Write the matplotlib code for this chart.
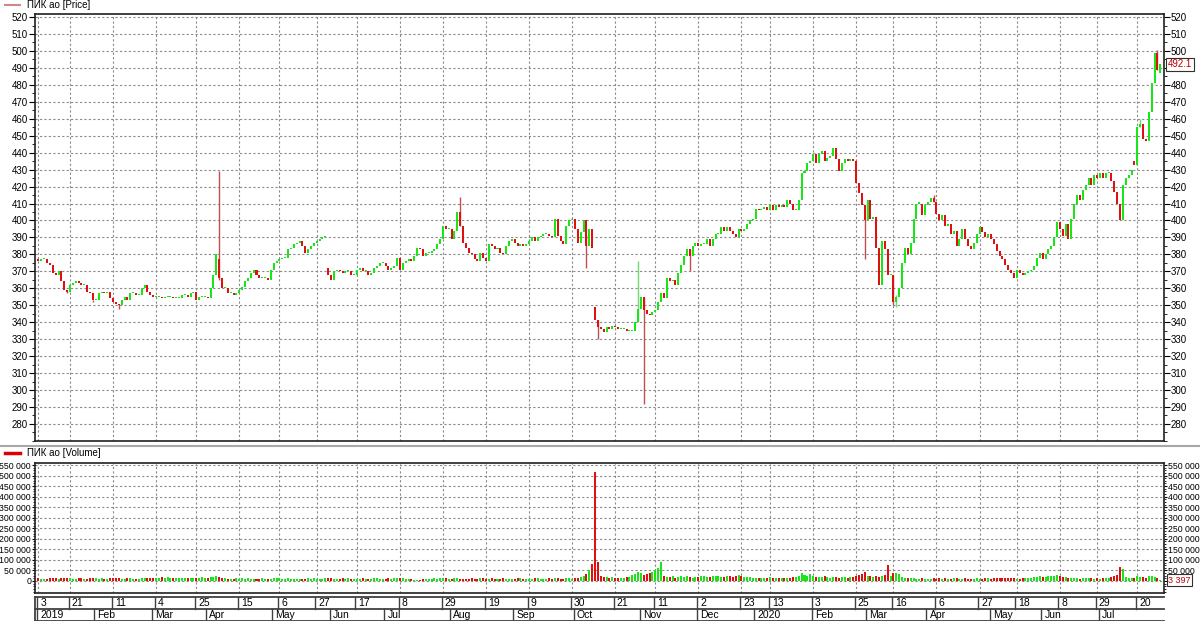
import matplotlib
matplotlib.use("Agg")
import matplotlib.pyplot as plt
from matplotlib.lines import Line2D
from matplotlib.ticker import MultipleLocator, FuncFormatter
import matplotlib.transforms as mtransforms

plt.rcParams["font.family"] = ["Liberation Sans", "DejaVu Sans"]

# daily candles, ПИК ао, 3 Jan 2019 .. late Jul 2020 (trading-day index)
opens = [
    377, 376, 377, 377, 375, 374, 369, 368, 370, 364,
    359, 358, 362, 363, 364, 363, 362, 362, 358, 357,
    353, 353, 357, 358, 357, 358, 354, 352, 351, 350,
    353, 355, 353, 357, 357, 356, 356, 360, 362, 358,
    356, 355, 355, 355, 354, 355, 355, 355, 354, 354,
    354, 356, 356, 355, 357, 358, 353, 355, 355, 355,
    354, 360, 368, 377, 366, 360, 360, 357, 357, 356,
    357, 359, 361, 364, 366, 369, 371, 368, 366, 366,
    366, 365, 371, 375, 376, 377, 378, 378, 383, 384,
    386, 387, 388, 385, 381, 383, 385, 387, 388, 389,
    390, 372, 368, 365, 370, 371, 370, 369, 370, 370,
    368, 368, 371, 372, 370, 370, 368, 369, 372, 373,
    375, 375, 373, 371, 372, 373, 378, 371, 375, 376,
    377, 376, 379, 384, 383, 379, 381, 381, 382, 383,
    386, 389, 397, 395, 395, 389, 394, 405, 397, 387,
    384, 381, 380, 377, 376, 381, 378, 376, 386, 385,
    383, 384, 381, 380, 385, 388, 389, 387, 385, 386,
    385, 386, 388, 390, 388, 390, 391, 392, 392, 391,
    390, 401, 391, 388, 386, 397, 400, 401, 395, 387,
    393, 400, 385, 395, 349, 341, 337, 336, 334, 337,
    336, 338, 337, 336, 336, 336, 335, 335, 335, 340,
    348, 355, 347, 345, 344, 346, 347, 352, 357, 354,
    366, 364, 365, 362, 369, 374, 379, 383, 379, 385,
    387, 385, 386, 386, 389, 385, 389, 392, 392, 396,
    394, 396, 394, 392, 390, 395, 394, 395, 398, 400,
    401, 407, 406, 407, 408, 406, 409, 406, 409, 408,
    409, 408, 412, 410, 406, 406, 412, 428, 429, 434,
    435, 439, 434, 439, 441, 435, 437, 438, 443, 436,
    429, 434, 436, 435, 436, 435, 422, 416, 409, 400,
    412, 401, 402, 384, 362, 388, 383, 368, 368, 352,
    355, 360, 375, 384, 380, 387, 401, 410, 410, 403,
    409, 411, 413, 411, 404, 400, 403, 397, 398, 392,
    394, 385, 389, 395, 389, 385, 383, 387, 392, 396,
    393, 390, 392, 389, 386, 382, 379, 377, 374, 371,
    369, 366, 371, 369, 368, 369, 370, 371, 373, 378,
    381, 377, 380, 383, 385, 390, 399, 395, 391, 398,
    389, 401, 410, 415, 412, 418, 421, 425, 421, 427,
    425, 428, 425, 428, 428, 423, 417, 410, 400, 421,
    425, 427, 435, 433, 455, 457, 448, 447, 464, 481,
    499, 487,
]

closes = [
    376, 377, 377, 375, 374, 369, 368, 370, 364, 359,
    358, 362, 363, 364, 363, 362, 362, 358, 357, 353,
    353, 357, 358, 357, 358, 354, 352, 351, 350, 353,
    355, 353, 357, 357, 356, 356, 360, 362, 358, 356,
    355, 355, 355, 354, 355, 355, 355, 354, 354, 354,
    356, 356, 355, 357, 358, 353, 355, 355, 355, 354,
    360, 368, 380, 366, 360, 360, 357, 357, 356, 357,
    359, 361, 364, 366, 369, 371, 368, 366, 366, 366,
    365, 371, 375, 376, 377, 378, 378, 383, 384, 386,
    387, 388, 385, 381, 383, 385, 387, 388, 389, 390,
    391, 368, 365, 370, 371, 370, 369, 370, 370, 368,
    368, 371, 372, 370, 370, 368, 369, 372, 373, 375,
    375, 373, 371, 372, 373, 378, 371, 375, 376, 377,
    376, 379, 384, 383, 379, 381, 381, 382, 383, 386,
    389, 397, 395, 395, 389, 394, 405, 397, 387, 384,
    381, 380, 377, 376, 381, 378, 376, 386, 385, 383,
    384, 381, 380, 385, 388, 389, 387, 385, 386, 385,
    386, 388, 390, 388, 390, 391, 392, 392, 391, 390,
    401, 391, 388, 386, 397, 400, 401, 395, 387, 393,
    400, 385, 395, 384, 341, 337, 336, 334, 337, 336,
    338, 337, 336, 336, 336, 335, 335, 335, 340, 348,
    355, 347, 345, 344, 346, 347, 352, 357, 354, 366,
    364, 365, 362, 369, 374, 379, 383, 379, 385, 387,
    385, 386, 386, 389, 385, 389, 392, 392, 396, 394,
    396, 394, 392, 390, 395, 394, 395, 398, 400, 401,
    407, 406, 407, 408, 406, 409, 406, 409, 408, 409,
    408, 412, 410, 406, 406, 412, 428, 429, 434, 435,
    439, 434, 439, 441, 435, 437, 438, 443, 436, 429,
    434, 436, 435, 436, 435, 422, 416, 409, 400, 412,
    401, 402, 384, 362, 388, 383, 368, 368, 352, 355,
    360, 375, 384, 380, 387, 401, 410, 410, 403, 409,
    411, 413, 411, 404, 400, 403, 397, 398, 392, 394,
    385, 389, 395, 389, 385, 383, 387, 392, 396, 393,
    390, 392, 389, 386, 382, 379, 377, 374, 371, 369,
    366, 371, 369, 368, 369, 370, 371, 373, 378, 381,
    377, 380, 383, 385, 390, 399, 395, 391, 398, 389,
    401, 410, 415, 412, 418, 421, 425, 421, 427, 425,
    428, 425, 428, 428, 423, 417, 410, 400, 421, 425,
    427, 430, 433, 455, 457, 448, 447, 464, 481, 499,
    489, 492.1,
]

# long shadows worth drawing: (index, high, low)
wick_idx = [10, 19, 28, 63, 147, 191, 195, 209, 211, 227, 288, 298, 299, 312, 384, 390]
wick_high = [359, 353, 351, 429, 414, 395, 341, 376, 355, 383, 409, 368, 356, 415, 460, 500.5]
wick_low = [357, 352, 348, 365, 397, 372, 330, 340, 292, 370, 377, 350, 349, 411, 455, 489]

# volume, thousands of shares
volume_k = [
    12, 10, 9, 11, 13, 14, 12, 10, 15, 16,
    14, 12, 11, 10, 12, 13, 11, 10, 12, 14,
    13, 11, 12, 10, 9, 12, 14, 15, 12, 11,
    10, 12, 13, 11, 10, 9, 12, 15, 14, 13,
    16, 15, 13, 17, 16, 18, 15, 14, 16, 13,
    12, 14, 13, 15, 12, 14, 16, 17, 15, 14,
    18, 20, 22, 19, 14, 12, 10, 11, 9, 12,
    10, 13, 11, 12, 10, 9, 11, 10, 12, 8,
    9, 10, 14, 12, 13, 11, 10, 12, 9, 11,
    10, 8, 9, 11, 12, 10, 13, 11, 9, 10,
    12, 16, 14, 11, 9, 10, 12, 11, 13, 10,
    9, 11, 10, 12, 9, 10, 11, 12, 13, 10,
    9, 11, 12, 10, 14, 16, 13, 12, 10, 9,
    8, 7, 6, 7, 8, 10, 9, 11, 12, 10,
    13, 15, 12, 11, 10, 12, 14, 11, 10, 9,
    11, 12, 10, 9, 13, 12, 11, 10, 12, 11,
    9, 10, 12, 11, 9, 10, 11, 13, 12, 10,
    9, 11, 10, 12, 13, 11, 10, 9, 12, 10,
    14, 12, 10, 11, 13, 12, 10, 14, 16, 20,
    24, 33, 52, 80, 515, 90, 22, 20, 18, 16,
    17, 15, 14, 16, 15, 18, 20, 28, 35, 42,
    38, 30, 32, 38, 42, 50, 62, 88, 25, 20,
    18, 22, 16, 20, 24, 18, 22, 20, 16, 18,
    21, 24, 22, 20, 19, 23, 25, 22, 20, 18,
    24, 22, 21, 25, 27, 23, 20, 18, 17, 16,
    15, 14, 16, 13, 15, 17, 14, 16, 15, 13,
    14, 16, 15, 17, 18, 22, 40, 28, 25, 32,
    22, 18, 20, 17, 22, 19, 16, 18, 20, 15,
    17, 19, 16, 18, 20, 24, 28, 32, 42, 26,
    25, 18, 22, 20, 24, 30, 78, 22, 38, 36,
    34, 18, 15, 14, 12, 13, 11, 10, 12, 11,
    9, 10, 12, 11, 13, 10, 12, 11, 10, 12,
    13, 11, 10, 12, 11, 9, 10, 12, 11, 10,
    12, 13, 11, 14, 12, 13, 15, 12, 14, 13,
    12, 11, 10, 12, 14, 13, 15, 17, 20, 22,
    18, 20, 24, 22, 25, 28, 24, 20, 18, 16,
    14, 12, 13, 11, 12, 14, 13, 12, 10, 12,
    11, 13, 15, 16, 20, 24, 30, 65, 55, 18,
    15, 12, 14, 22, 20, 18, 16, 24, 22, 18,
    16, 3.397,
]

day_tick_idx = [0, 11, 26, 41, 55, 70, 84, 97, 111, 126, 141, 156, 171, 186,
                201, 215, 230, 245, 255, 270, 285, 298, 313, 328, 341, 356, 369, 383]
day_tick_lbl = ["3", "21", "11", "4", "25", "15", "6", "27", "17", "8", "29", "19", "9", "30",
                "21", "11", "2", "23", "13", "3", "25", "16", "6", "27", "18", "8", "29", "20"]
month_idx = [0, 20, 40, 59, 82, 102, 121, 144, 166, 187, 210, 230, 250, 270, 289, 310, 332, 350, 370]
month_lbl = ["2019", "Feb", "Mar", "Apr", "May", "Jun", "Jul", "Aug", "Sep", "Oct", "Nov", "Dec",
             "2020", "Feb", "Mar", "Apr", "May", "Jun", "Jul"]

assert len(opens) == len(closes) == len(volume_k)

UP = "#19e619"
DOWN = "#e01010"
GRID = "#8a8a8a"
W, H = 1200, 621

fig = plt.figure(figsize=(12, 6.21), dpi=100)
fig.patch.set_facecolor("white")

left, right = 35 / W, 1164 / W
ax_p = fig.add_axes([left, 1 - 441 / H, right - left, (441 - 14) / H])
ax_v = fig.add_axes([left, 1 - 593 / H, right - left, (593 - 463) / H], sharex=ax_p)
ax_d = fig.add_axes([left, 1 - 621 / H, right - left, (621 - 597) / H], sharex=ax_p)

n = len(closes)
xs = list(range(n))
up = [c >= o for o, c in zip(opens, closes)]
cols = [UP if u else DOWN for u in up]
bottoms = [min(o, c) for o, c in zip(opens, closes)]
heights = [max(abs(c - o), 0.6) for o, c in zip(opens, closes)]

# price candles
for i, hi, lo in zip(wick_idx, wick_high, wick_low):
    ax_p.vlines(i, lo, hi, color="#c05050" if not up[i] else "#70d870", lw=1.0, zorder=2)
ax_p.bar(xs, heights, bottom=bottoms, width=0.7, color=cols, linewidth=0, zorder=3)

# volume bars
vols = [v * 1000 for v in volume_k]
ax_v.bar(xs, vols, width=0.7, color=cols, linewidth=0, zorder=3)

ax_p.set_xlim(-1.2, 392.3)
ax_p.set_ylim(269.9, 521.8)
ax_v.set_ylim(-56900, 559500)

for ax in (ax_p, ax_v):
    ax.set_xticks(day_tick_idx)
    ax.tick_params(axis="x", length=0, labelbottom=False)
    ax.grid(True, which="major", color=GRID, linestyle=(0, (2, 2)), linewidth=0.8, zorder=0)
    ax.tick_params(axis="y", which="both", direction="out", left=True, right=True,
                   labelleft=True, labelright=True, pad=1, colors="black")
    ax.tick_params(axis="y", which="minor", length=2, width=0.6)
    for s in ax.spines.values():
        s.set_linewidth(1.2)
        s.set_color("#202020")

ax_p.tick_params(axis="y", which="major", length=4, width=0.8, labelsize=7)
ax_p.set_yticks(range(280, 521, 10))
ax_p.yaxis.set_minor_locator(MultipleLocator(5))

ax_v.tick_params(axis="y", which="major", length=2.5, width=0.8, labelsize=6.3, pad=0.3)
ax_v.tick_params(axis="y", which="minor", length=1.5)
ax_v.set_yticks(range(0, 550001, 50000))
ax_v.yaxis.set_minor_locator(MultipleLocator(12500))
ax_v.yaxis.set_major_formatter(FuncFormatter(lambda v, _: f"{int(v):,}".replace(",", " ")))

# last value markers on the right axis
tr_p = mtransforms.blended_transform_factory(ax_p.transAxes, ax_p.transData)
ax_p.text(1.0035, closes[-1], f"{closes[-1]:.1f}", transform=tr_p, fontsize=7, color="#c00000",
          va="center", ha="left", zorder=10, clip_on=False,
          bbox=dict(boxstyle="square,pad=0.15", fc="white", ec="#303030", lw=0.8))
tr_v = mtransforms.blended_transform_factory(ax_v.transAxes, ax_v.transData)
ax_v.text(1.0035, vols[-1], f"{int(round(vols[-1])):,}".replace(",", " "), transform=tr_v,
          fontsize=6.5, color="#c00000", va="center", ha="left", zorder=10, clip_on=False,
          bbox=dict(boxstyle="square,pad=0.15", fc="white", ec="#303030", lw=0.8))

# date band: day row on top, month row below
ax_d.set_ylim(0, 2)
ax_d.axis("off")
x0, x1 = ax_p.get_xlim()
for yy in (2, 1, 0.03):
    ax_d.plot([x0, x1], [yy, yy], color="#404040", lw=1.3, clip_on=False)
ax_d.plot([x0, x0], [0, 2], color="#404040", lw=1.3, clip_on=False)
for i, lbl in zip(day_tick_idx, day_tick_lbl):
    ax_d.plot([i - 0.5, i - 0.5], [1, 2], color="#404040", lw=1.0)
    ax_d.text(i + 0.6, 1.5, lbl, fontsize=7.5, ha="left", va="center")
for i, lbl in zip(month_idx, month_lbl):
    ax_d.plot([i - 0.5, i - 0.5], [0, 1], color="#404040", lw=1.0)
    ax_d.text(i + 0.6, 0.5, lbl, fontsize=7.5, ha="left", va="center")

# legends and panel separator
fig.add_artist(Line2D([5 / W, 20 / W], [1 - 5 / H, 1 - 5 / H], color="#d08888", lw=1.5))
fig.text(27 / W, 1 - 5 / H, "ПИК ао [Price]", fontsize=7, va="center", ha="left")
fig.add_artist(Line2D([0, 1], [1 - 446 / H, 1 - 446 / H], color="#a8a8a8", lw=1.5))
fig.add_artist(Line2D([5 / W, 20 / W], [1 - 453 / H, 1 - 453 / H], color="#dd0000", lw=2.5))
fig.text(27 / W, 1 - 453 / H, "ПИК ао [Volume]", fontsize=7, va="center", ha="left")

fig.savefig("out.png", dpi=100, facecolor="white")
